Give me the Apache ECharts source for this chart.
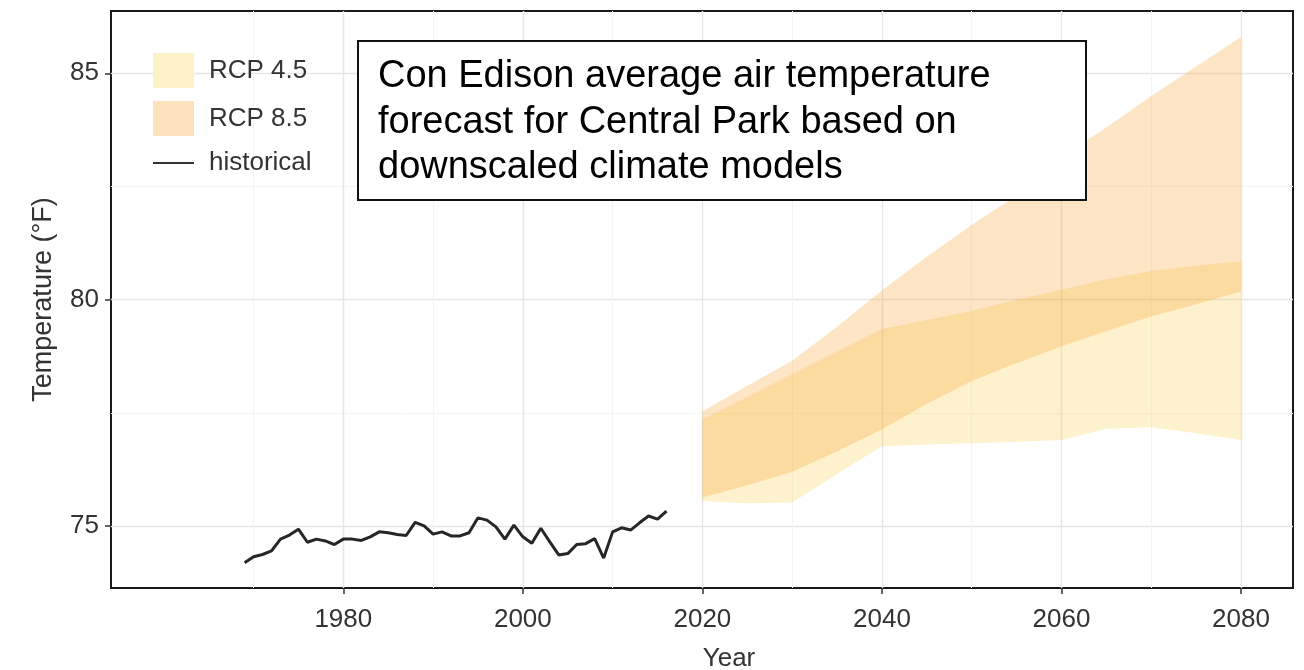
<!DOCTYPE html>
<html>
<head>
<meta charset="utf-8">
<script src="https://cdn.jsdelivr.net/npm/echarts@6/dist/echarts.min.js"></script>
<style>
  html, body { margin: 0; padding: 0; background: #ffffff; }
  #chart { width: 1304px; height: 670px; }
</style>
</head>
<body>
<div id="chart"></div>
<script>
// Observed annual average air temperature, Central Park (°F)
const histYears = [1969, 1970, 1971, 1972, 1973, 1974, 1975, 1976, 1977, 1978,
                   1979, 1980, 1981, 1982, 1983, 1984, 1985, 1986, 1987, 1988,
                   1989, 1990, 1991, 1992, 1993, 1994, 1995, 1996, 1997, 1998,
                   1999, 2000, 2001, 2002, 2003, 2004, 2005, 2006, 2007, 2008,
                   2009, 2010, 2011, 2012, 2013, 2014, 2015, 2016];
const histTemps = [74.19, 74.32, 74.37, 74.45, 74.71, 74.80, 74.93, 74.64, 74.71, 74.67,
                   74.59, 74.71, 74.71, 74.68, 74.76, 74.87, 74.85, 74.81, 74.79, 75.08,
                   75.00, 74.82, 74.87, 74.78, 74.78, 74.85, 75.18, 75.13, 74.98, 74.71,
                   75.02, 74.76, 74.62, 74.95, 74.65, 74.36, 74.39, 74.59, 74.61, 74.72,
                   74.29, 74.87, 74.96, 74.91, 75.07, 75.22, 75.15, 75.33];

// Downscaled projection ranges (°F)
const projYears = [2020, 2025, 2030, 2035, 2040, 2045, 2050, 2055, 2060, 2065, 2070, 2075, 2080];
const rcp45Low  = [75.55, 75.50, 75.52, 76.15, 76.76, 76.80, 76.83, 76.86, 76.90, 77.15, 77.18, 77.05, 76.90];
const rcp45High = [77.35, 77.85, 78.35, 78.85, 79.35, 79.55, 79.75, 80.00, 80.22, 80.45, 80.63, 80.75, 80.85];
const rcp85Low  = [75.63, 75.90, 76.20, 76.65, 77.13, 77.70, 78.20, 78.60, 78.97, 79.30, 79.63, 79.90, 80.18];
const rcp85High = [77.53, 78.10, 78.65, 79.40, 80.20, 80.95, 81.65, 82.30, 83.15, 83.80, 84.50, 85.15, 85.80];

// Axis ticks
const xTicks = [1980, 2000, 2020, 2040, 2060, 2080];
const xMinorTicks = [1970, 1990, 2010, 2030, 2050, 2070];
const yTicks = [75, 80, 85];
const yMinorTicks = [77.5, 82.5];

const annotationLines = [
  'Con Edison average air temperature',
  'forecast for Central Park based on',
  'downscaled climate models'
];

const FILL_45 = 'rgba(248, 205, 55, 0.25)';
const FILL_85 = 'rgba(248, 150, 25, 0.25)';
const LEGEND_45 = '#fdf1ca';
const LEGEND_85 = '#fde2bd';
const TEXT = '#333333';
const FONT = '"Liberation Sans", Arial, Helvetica, sans-serif';

const pairs = (xs, ys) => xs.map((x, i) => [x, ys[i]]);
const rows = (xs, lo, hi) => xs.map((x, i) => [x, lo[i], hi[i]]);

const X_MIN = 1954.12, X_MAX = 2085.79;
const Y_MIN = 73.63, Y_MAX = 86.376;

// A ribbon between a lower and an upper bound, drawn as one polygon
// through the grid's coordinate system.
function ribbon(name, lows, highs, fill) {
  return {
    name: name, type: 'custom', silent: true, z: 2,
    data: rows(projYears, lows, highs),
    encode: { x: 0, y: [1, 2] },
    itemStyle: { color: fill },
    renderItem: function (params, api) {
      if (params.dataIndex !== 0) return null;
      const upper = projYears.map((yr, i) => api.coord([yr, highs[i]]));
      const lower = projYears.map((yr, i) => api.coord([yr, lows[i]])).reverse();
      return {
        type: 'polygon',
        shape: { points: upper.concat(lower) },
        style: { fill: fill, stroke: null }
      };
    }
  };
}

const chart = echarts.init(document.getElementById('chart'), null, { renderer: 'canvas' });

chart.setOption({
  animation: false,
  backgroundColor: '#ffffff',
  textStyle: { fontFamily: FONT },
  grid: {
    left: 111, top: 11, right: 11, bottom: 82,
    outerBoundsMode: 'none', containLabel: false,
    show: true, borderColor: '#1a1a1a', borderWidth: 2, backgroundColor: 'transparent'
  },
  legend: {
    orient: 'vertical', left: 152, top: 53, padding: 0,
    itemWidth: 41, itemHeight: 35, itemGap: 13,
    selectedMode: false,
    textStyle: { fontSize: 26, color: TEXT, fontFamily: FONT, padding: [4, 0, 0, 10] },
    data: [
      { name: 'RCP 4.5', icon: 'rect', itemStyle: { color: LEGEND_45, borderWidth: 0 } },
      { name: 'RCP 8.5', icon: 'rect', itemStyle: { color: LEGEND_85, borderWidth: 0 } },
      { name: 'historical', itemStyle: { color: 'rgba(0,0,0,0)', borderWidth: 0, opacity: 0 },
        lineStyle: { color: '#333333', width: 2 } }
    ]
  },
  xAxis: [
    {
      type: 'value', min: X_MIN, max: X_MAX,
      name: 'Year', nameLocation: 'middle', nameGap: 58,
      nameTextStyle: { fontSize: 26, color: TEXT, fontFamily: FONT, padding: [0, 0, 0, 54] },
      axisLine: { show: false },
      axisTick: { show: true, length: 6, customValues: xTicks, lineStyle: { color: '#333', width: 1.5 } },
      axisLabel: { customValues: xTicks, margin: 19, fontSize: 26, color: TEXT, fontFamily: FONT,
                   formatter: v => String(Math.round(v)) },
      splitLine: { show: true, lineStyle: { color: '#e6e6e6', width: 1.4 } }
    },
    {
      type: 'value', min: X_MIN, max: X_MAX, position: 'bottom',
      axisLine: { show: false },
      axisTick: { show: false, customValues: xMinorTicks },
      axisLabel: { show: false, customValues: xMinorTicks },
      splitLine: { show: true, lineStyle: { color: '#f4f4f4', width: 1 } }
    }
  ],
  yAxis: [
    {
      type: 'value', min: Y_MIN, max: Y_MAX,
      name: 'Temperature (\u00b0F)', nameLocation: 'middle', nameGap: 54, nameRotate: 90,
      nameTextStyle: { fontSize: 27, color: TEXT, fontFamily: FONT },
      axisLine: { show: false },
      axisTick: { show: true, length: 6, customValues: yTicks, lineStyle: { color: '#333', width: 1.5 } },
      axisLabel: { customValues: yTicks, margin: 12, fontSize: 26, color: TEXT, fontFamily: FONT,
                   formatter: v => String(Math.round(v)) },
      splitLine: { show: true, lineStyle: { color: '#e6e6e6', width: 1.4 } }
    },
    {
      type: 'value', min: Y_MIN, max: Y_MAX, position: 'left',
      axisLine: { show: false },
      axisTick: { show: false, customValues: yMinorTicks },
      axisLabel: { show: false, customValues: yMinorTicks },
      splitLine: { show: true, lineStyle: { color: '#f4f4f4', width: 1 } }
    }
  ],
  series: [
    ribbon('RCP 4.5', rcp45Low, rcp45High, FILL_45),
    ribbon('RCP 8.5', rcp85Low, rcp85High, FILL_85),
    {
      name: 'historical', type: 'line', data: pairs(histYears, histTemps),
      symbol: 'none', z: 5,
      lineStyle: { color: '#262626', width: 3 }, itemStyle: { color: '#262626' }
    }
  ],
  graphic: [
    {
      type: 'group', left: 357, top: 40,
      children: [
        {
          type: 'rect', z: 100, shape: { x: 0, y: 0, width: 728, height: 159 },
          style: { fill: '#ffffff', stroke: '#111111', lineWidth: 2 }
        },
        {
          type: 'text', z: 101, x: 20, y: 13,
          style: {
            text: annotationLines.join('\n'),
            fontSize: 38, lineHeight: 45.5, fontFamily: FONT,
            fill: '#000000', verticalAlign: 'top', align: 'left'
          }
        }
      ]
    }
  ]
});
</script>
</body>
</html>
